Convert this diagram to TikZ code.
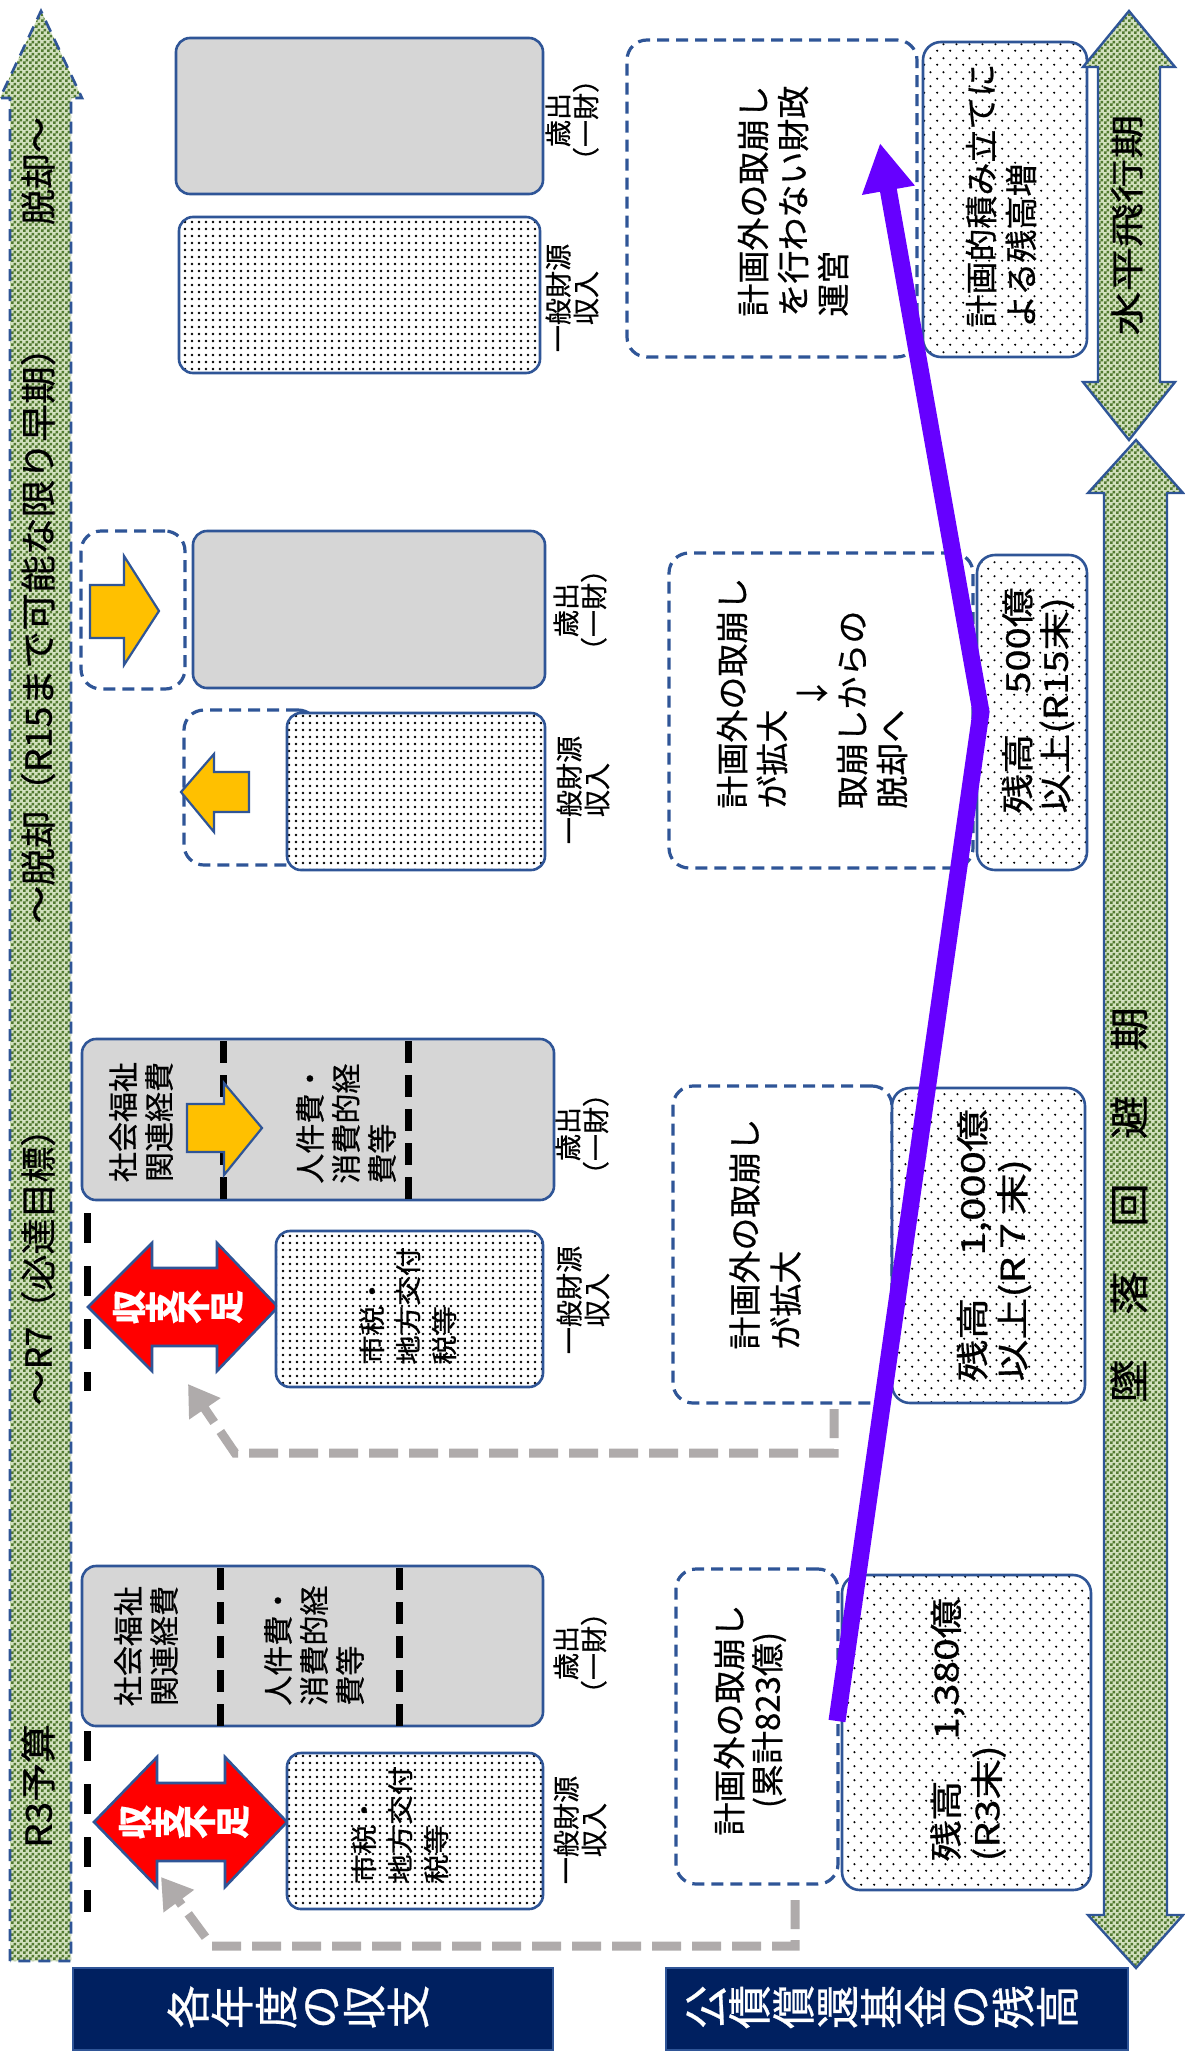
\documentclass[tikz,border=0pt]{standalone}
\usepackage{fontspec}
\setmainfont{Noto Sans CJK JP}[FakeBold=0.6]
\usetikzlibrary{patterns,arrows.meta,fit}
\definecolor{cBlue}{HTML}{2F5597}
\definecolor{cNavy}{HTML}{002060}
\definecolor{cGold}{HTML}{FFC000}
\definecolor{cPurp}{HTML}{6600FF}
\definecolor{cGray}{RGB}{175,171,171}
\definecolor{cGLight}{RGB}{210,224,190}
\definecolor{cGDark}{RGB}{82,122,48}
\definecolor{cBoxGray}{RGB}{214,214,214}
\definecolor{cRed}{HTML}{FF0000}

\pgfdeclarepatternformonly{gcheck}{\pgfqpoint{0pt}{0pt}}{\pgfqpoint{3pt}{3pt}}{\pgfqpoint{3pt}{3pt}}{%
  \pgfpathrectangle{\pgfqpoint{0pt}{0pt}}{\pgfqpoint{1.5pt}{1.5pt}}%
  \pgfpathrectangle{\pgfqpoint{1.5pt}{1.5pt}}{\pgfqpoint{1.5pt}{1.5pt}}%
  \pgfusepath{fill}}
\pgfdeclarepatternformonly{ddots}{\pgfqpoint{0pt}{0pt}}{\pgfqpoint{3.25pt}{3.25pt}}{\pgfqpoint{3.25pt}{3.25pt}}{%
  \pgfpathcircle{\pgfqpoint{1.6pt}{1.6pt}}{0.75pt}%
  \pgfusepath{fill}}
\pgfdeclarepatternformonly{sdots}{\pgfqpoint{0pt}{0pt}}{\pgfqpoint{6.4pt}{7pt}}{\pgfqpoint{6.4pt}{7pt}}{%
  \pgfpathcircle{\pgfqpoint{1.6pt}{1.75pt}}{0.6pt}%
  \pgfpathcircle{\pgfqpoint{4.8pt}{5.25pt}}{0.6pt}%
  \pgfusepath{fill}}

% stacks of lines with an exact line pitch
\newcommand\stkL[2]{\vbox{\def\\{\cr}\baselineskip=#1\lineskiplimit=-\maxdimen\lineskip=0pt\halign{##\hfil\cr#2\crcr}}}
\newcommand\stkC[2]{\vbox{\def\\{\cr}\baselineskip=#1\lineskiplimit=-\maxdimen\lineskip=0pt\halign{\hfil##\hfil\cr#2\crcr}}}

\newcommand\ftGA{\fontsize{18pt}{18pt}\selectfont}
\newcommand\ftRB{\fontsize{16.5pt}{20pt}\selectfont}
\newcommand\ftNV{\fontsize{22pt}{22pt}\selectfont}
\newcommand\ftHK{\fontsize{17pt}{17pt}\selectfont}
\newcommand\ftTR{\fontsize{20pt}{20pt}\selectfont}

\tikzset{
  sbox/.style={draw=cBlue, line width=1.3pt, rounded corners=7pt, inner sep=0pt},
  exbox/.style={sbox, fill=cBoxGray},
  inbox/.style={sbox, preaction={fill=white}, pattern=ddots, pattern color=black},
  balbox/.style={sbox, rounded corners=9pt, preaction={fill=white}, pattern=sdots, pattern color=black},
  dashbox/.style={draw=cBlue, line width=1.6pt, dash pattern=on 6pt off 3.5pt, rounded corners=10pt, inner sep=0pt},
  navybox/.style={draw=cBlue, line width=1.2pt, fill=cNavy, inner sep=0pt},
  vt/.style={rotate=90, inner sep=0pt},
  lbl/.style={vt, font=\ftRB, scale=0.82},
  bxt/.style={vt, font=\ftRB, scale=0.91},
  txt/.style={vt, font=\ftRB, scale=0.79, xscale=1.13},
  kst/.style={vt, font=\ftRB\bfseries, scale=1.03, text=white},
  greenshape/.style={preaction={fill=cGLight}, pattern=gcheck, pattern color=cGDark},
  goldarrow/.style={fill=cGold, draw=cBlue, line width=1.1pt, line join=miter},
  redarrow/.style={fill=cRed, draw=cBlue, line width=1.3pt, line join=miter},
  blkdash/.style={line width=3.5pt, black, dash pattern=on 11pt off 6pt},
  leftdash/.style={line width=3.5pt, black, dash pattern=on 15pt off 11.5pt},
  graydash/.style={line width=4.5pt, cGray, dash pattern=on 14.5pt off 5.5pt, -{Triangle[length=15pt,width=18pt]}},
}

\begin{document}
\begin{tikzpicture}[x=0.5pt,y=-0.5pt]
\useasboundingbox (0,0) rectangle (1184,2056);
\fill[white] (0,0) rectangle (1184,2056);

% ---------- left green arrow ----------
\path[greenshape, draw=cBlue, line width=1.3pt, dash pattern=on 6pt off 4pt]
  (10,1961) -- (10,98) -- (0,98) -- (41,11) -- (82,98) -- (71,98) -- (71,1961) -- cycle;
\node[vt, font=\ftGA] (tDatsuB) at (38,171) {脱却～};
\node[vt, font=\ftGA, xscale=1.05] (tDatsuA) at (38,626) {～脱却（R15まで可能な限り早期）};
\node[vt, font=\ftGA] (tR7) at (38,1258) {～R7（必達目標）};
\node[vt, font=\ftGA, xscale=1.08] (tR3) at (38,1786) {R3予算};

% ---------- gray dashed connectors ----------
\coordinate (g3a) at (834,1409);
\coordinate (g3b) at (834,1453);
\coordinate (g3c) at (235,1453);
\coordinate (g3t) at (188,1384);
\draw[graydash] (g3a) -- (g3b) -- (g3c) -- (g3t);
\coordinate (g4a) at (795,1900);
\coordinate (g4b) at (795,1946);
\coordinate (g4c) at (212,1946);
\coordinate (g4t) at (161,1877);
\draw[graydash] (g4a) -- (g4b) -- (g4c) -- (g4t);

% ---------- column 1 ----------
\node[exbox, fit={(176,38) (543,194)}] (ex1) {};
\node[inbox, fit={(179,217) (540,373)}] (in1) {};
\node[lbl] (lEx1) at (572,120) {\stkC{17pt}{歳出\\（一財）}};
\node[lbl] (lIn1) at (572,298) {\stkC{17pt}{一般財源\\収入}};

% ---------- column 2 ----------
\node[dashbox, fit={(81,531) (185,689)}] (dx2a) {};
\node[exbox, fit={(193,531) (545,688)}] (ex2) {};
\node[dashbox, fit={(184,710) (318,865)}] (dx2b) {};
\node[inbox, fit={(287,713) (545,870)}] (in2) {};
\path[goldarrow] (90,585) -- (124,585) -- (124,556) -- (159,611) -- (124,665) -- (124,638) -- (90,638) -- cycle;
\path[goldarrow] (249,772) -- (214,772) -- (214,754) -- (181,792) -- (214,832) -- (214,812) -- (249,812) -- cycle;
\node[lbl] (lEx2) at (580,610) {\stkC{17pt}{歳出\\（一財）}};
\node[lbl] (lIn2) at (583,790) {\stkC{17pt}{一般財源\\収入}};

% ---------- column 3 ----------
\node[exbox, fit={(82,1039) (554,1200)}] (ex3) {};
\draw[blkdash] (223,1041) -- (223,1203);
\draw[blkdash] (408,1041) -- (408,1203);
\path[goldarrow] (187,1104) -- (224,1104) -- (224,1083) -- (262,1128) -- (224,1175) -- (224,1152) -- (187,1152) -- cycle;
\node[bxt] (t3a) at (141,1122) {\stkC{19.8pt}{社会福祉\\関連経費}};
\node[bxt, anchor=west] (t3b) at (346,1184) {\stkL{19.8pt}{人件費・\\消費的経\\費等}};
\node[lbl] (lEx3) at (582,1134) {\stkC{17pt}{歳出\\（一財）}};
\path[redarrow] (88,1307) -- (152,1243) -- (152,1268) -- (217,1268) -- (217,1243) -- (278,1307) -- (217,1371) -- (217,1346) -- (152,1346) -- (152,1371) -- cycle;
\draw[leftdash] (87,1213) -- (87,1391);
\node[kst] (k3a) at (129,1307) {収};
\node[kst] (k3b) at (162,1307) {支};
\node[kst] (k3c) at (194,1307) {不};
\node[kst] (k3d) at (227,1307) {足};
\node[inbox, fit={(276,1231) (543,1387)}] (in3) {};
\node[txt, anchor=west] (t3c) at (408,1365) {\stkL{22.8pt}{市税・\\地方交付\\税等}};
\node[lbl] (lIn3) at (583,1300) {\stkC{17pt}{一般財源\\収入}};

% ---------- column 4 ----------
\node[exbox, fit={(82,1566) (543,1726)}] (ex4) {};
\draw[blkdash] (220,1568) -- (220,1729);
\draw[blkdash] (399,1568) -- (399,1729);
\node[bxt] (t4a) at (146,1646) {\stkC{19.8pt}{社会福祉\\関連経費}};
\node[bxt, anchor=west] (t4b) at (314,1706) {\stkL{19.8pt}{人件費・\\消費的経\\費等}};
\node[lbl] (lEx4) at (580,1653) {\stkC{17pt}{歳出\\（一財）}};
\path[redarrow] (94,1822) -- (157,1757) -- (157,1783) -- (225,1783) -- (225,1757) -- (287,1822) -- (225,1887) -- (225,1861) -- (157,1861) -- (157,1887) -- cycle;
\draw[leftdash] (87,1731) -- (87,1912);
\node[kst] (k4a) at (135,1822) {収};
\node[kst] (k4b) at (168,1822) {支};
\node[kst] (k4c) at (200,1822) {不};
\node[kst] (k4d) at (233,1822) {足};
\node[inbox, fit={(287,1753) (543,1909)}] (in4) {};
\node[txt, anchor=west] (t4c) at (400,1884) {\stkL{22.8pt}{市税・\\地方交付\\税等}};
\node[lbl] (lIn4) at (580,1830) {\stkC{17pt}{一般財源\\収入}};

% ---------- right side boxes ----------
\node[dashbox, fit={(627,40) (917,357)}] (dxT) {};
\node[balbox, fit={(923,42) (1087,357)}] (balT) {};
\node[vt, font=\ftRB, anchor=west] (tT1) at (793,317) {\stkL{20pt}{計画外の取崩し\\を行わない財政\\運営}};
\node[vt, font=\ftRB, anchor=west] (tT2) at (1001,328) {\stkL{20pt}{計画的積み立てに\\よる残高増}};

\node[dashbox, fit={(669,553) (973,868)}] (dx2r) {};
\node[balbox, fit={(977,555) (1087,870)}] (bal2) {};
\node[vt, font=\ftRB, anchor=west] (t2r) at (812,809) {\stkL{20pt}{計画外の取崩し\\が拡大\\\hfil↓\\取崩しからの\\脱却へ}};
\node[vt, font=\ftRB, anchor=west, xscale=1.21] (b2r) at (1038,814) {\stkL{19pt}{残高　500億\\以上(R15末)}};

\node[dashbox, fit={(673,1086) (892,1403)}] (dx3r) {};
\node[balbox, fit={(892,1088) (1085,1403)}] (bal3) {};
\node[vt, font=\ftRB, anchor=west] (t3r) at (765,1350) {\stkL{20.5pt}{計画外の取崩し\\が拡大}};
\node[vt, font=\ftRB, anchor=west, xscale=1.27] (b3r) at (994,1382) {\stkL{20pt}{残高　1,000億\\以上(R７末)}};

\node[dashbox, fit={(676,1569) (838,1884)}] (dx4r) {};
\node[balbox, fit={(842,1575) (1091,1890)}] (bal4) {};
\node[vt, font=\ftRB] (t4r) at (750,1720) {\stkC{19pt}{計画外の取崩し\\(累計823億)}};
\node[vt, font=\ftRB, anchor=west, xscale=1.23] (b4r) at (968,1862) {\stkL{20.5pt}{残高　1,380億\\(R3末)}};

% ---------- right green arrows ----------
\path[greenshape, draw=cBlue, line width=1.2pt, line join=miter]
  (1129,11) -- (1175,67) -- (1160,67) -- (1160,382) -- (1175,382) -- (1129,440) -- (1083,382) -- (1098,382) -- (1098,67) -- (1083,67) -- cycle;
\node[vt, font=\ftHK, xscale=1.3] (tHK) at (1127,225) {水平飛行期};
\path[greenshape, draw=cBlue, line width=1.2pt, line join=miter]
  (1136,440) -- (1183,493) -- (1167,493) -- (1167,1915) -- (1183,1915) -- (1136,1968) -- (1088,1915) -- (1104,1915) -- (1104,493) -- (1088,493) -- cycle;
\node[vt, font=\ftTR, xscale=1.1] (tTR) at (1129,1205) {墜　落　回　避　期};

% ---------- navy labels ----------
\node[navybox, fit={(73,1968) (553,2050)}] (navL) {};
\node[vt, font=\ftNV, text=white] (tNavL) at (298,2007) {\stkC{22pt}{各\\年\\度\\の\\収\\支}};
\node[navybox, fit={(666,1968) (1128,2050)}] (navR) {};
\node[vt, font=\ftNV, text=white] (tNavR) at (882,2007) {\stkC{22pt}{公\\債\\償\\還\\基\\金\\の\\残\\高}};

% ---------- purple trend arrow ----------
\coordinate (pS) at (837,1721);
\coordinate (pV) at (981,712);
\coordinate (pT) at (880,143);
\draw[cPurp, line width=8.5pt, line join=miter, -{Triangle[length=24pt,width=25pt]}] (pS) -- (pV) -- (pT);
\end{tikzpicture}
\end{document}
